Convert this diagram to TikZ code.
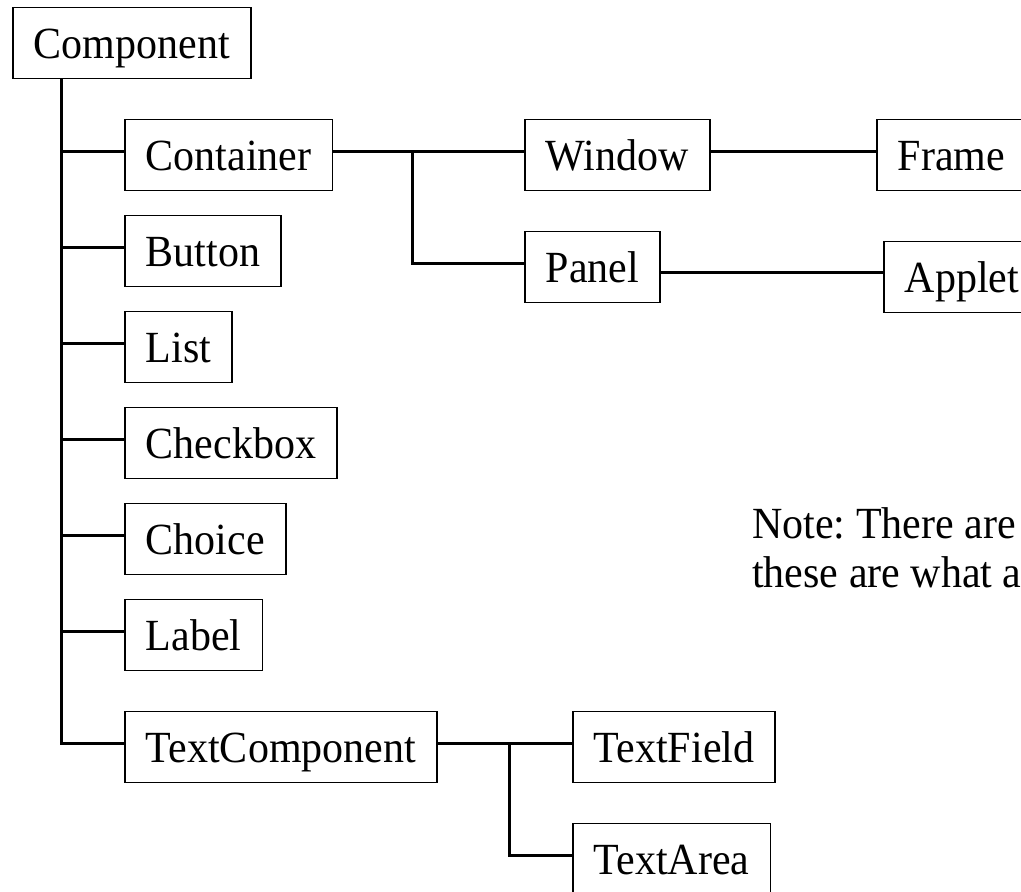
\documentclass[tikz,border=0pt]{standalone}
\usepackage{graphicx}
\usepackage{fontspec}
\setmainfont{Liberation Serif}
\frenchspacing
% slightly tall lettering used for every label
\newcommand{\tallword}[1]{\scalebox{1}[1.06]{#1}}
\begin{document}
\begin{tikzpicture}[x=1pt,y=-1pt,
  cls/.style={draw, line width=1.8pt, inner xsep=21pt, inner ysep=0pt,
    text height=51pt, text depth=20pt, anchor=west,
    font=\fontsize{42}{49}\selectfont},
  link/.style={line width=3pt},
  notetext/.style={anchor=base west, inner sep=0pt, font=\fontsize{42}{49}\selectfont}]
\useasboundingbox (0,0) rectangle (1021,892);
\clip (0,0) rectangle (1021,892);

% class boxes
\node[cls] (component) at (12,43) {\tallword{Component}};
\node[cls] (container) at (124,155) {\tallword{Container}};
\node[cls] (button) at (124,251) {\tallword{Button}};
\node[cls] (list) at (124,347) {\tallword{List}};
\node[cls] (checkbox) at (124,443) {\tallword{Checkbox}};
\node[cls] (choice) at (124,539) {\tallword{Choice}};
\node[cls] (label) at (124,635) {\tallword{Label}};
\node[cls] (textcomponent) at (124,747) {\tallword{TextComponent}};
\node[cls] (window) at (524,155) {\tallword{Window}};
\node[cls] (frame) at (876,155) {\tallword{Frame}};
\node[cls] (panel) at (524,267) {\tallword{Panel}};
\node[cls] (applet) at (883,277) {\tallword{Applet}};
\node[cls] (textfield) at (572,747) {\tallword{TextField}};
\node[cls] (textarea) at (572,859) {\tallword{TextArea}};

% branching points
\coordinate (trunk) at ([xshift=49pt]component.south west);
\coordinate (cjoin) at (412,152);
\coordinate (tjoin) at (509,742);

% Component subtree
\draw[link] (trunk) |- ([yshift=4pt]textcomponent.west);
\foreach \n in {container,button,list,checkbox,choice,label}
  \draw[link] ([yshift=4pt]\n.west) -- ([yshift=4pt]\n.west -| trunk);

% Container subtree
\draw[link] ([yshift=4pt]container.east) -- ([yshift=4pt]window.west);
\draw[link] ([yshift=4pt]container.east -| cjoin) |- ([yshift=4pt]panel.west);
\draw[link] ([yshift=4pt]window.east) -- ([yshift=4pt]frame.west);
\draw[link] ([yshift=-5pt]panel.east) -- ([yshift=-5pt]panel.east -| applet.west);

% TextComponent subtree
\draw[link] ([yshift=4pt]textcomponent.east) -- ([yshift=4pt]textfield.west);
\draw[link] ([yshift=4pt]textcomponent.east -| tjoin) |- ([yshift=4pt]textarea.west);

% note
\node[notetext] (note1) at (752,538) {\tallword{Note: There are}};
\node[notetext] (note2) at (752,587) {\tallword{these are what a}};
\end{tikzpicture}
\end{document}
